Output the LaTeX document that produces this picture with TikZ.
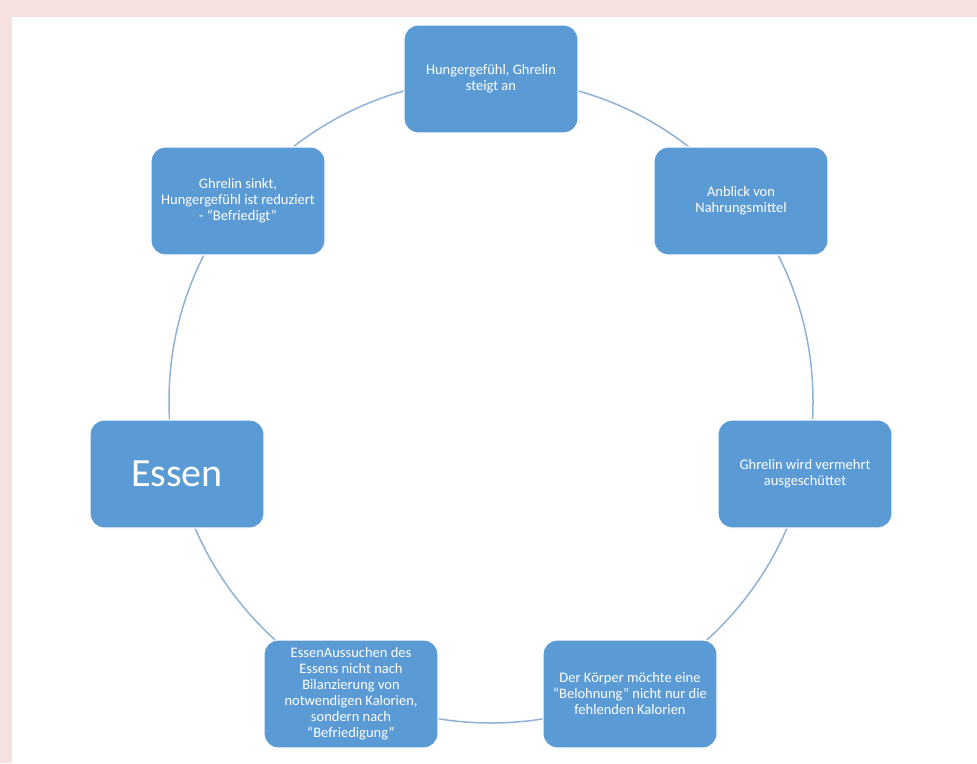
\documentclass[tikz,border=0pt]{standalone}
\usepackage{fontspec}
\setmainfont{Carlito}
\definecolor{bgpink}{RGB}{247,224,224}
\definecolor{boxblue}{RGB}{91,155,213}
\definecolor{ringblue}{RGB}{145,178,215}
\tikzset{
  cyclebox/.style={draw=white, line width=1.2pt, fill=boxblue, rounded corners=14pt,
    minimum width=174pt, minimum height=108pt, text=white, align=center,
    font=\fontsize{14.5}{16}\selectfont, inner sep=3pt},
  ring/.style={draw=ringblue, line width=1.5pt}
}
\begin{document}
\begin{tikzpicture}[x=1pt,y=-1pt]
\fill[bgpink] (0,0) rectangle (977,763);
\fill[white] (12,17) rectangle (977,763);
\useasboundingbox (0,0) rectangle (977,763);
\coordinate (c) at (491,401);
\draw[ring] (c) circle (322pt);
\node[cyclebox] (n1) at (491,79) {Hungergefühl, Ghrelin\\steigt an};
\node[cyclebox] (n2) at (741,201) {Anblick von\\Nahrungsmittel};
\node[cyclebox] (n3) at (805,474) {Ghrelin wird vermehrt\\ausgeschüttet};
\node[cyclebox] (n4) at (630,694) {Der Körper möchte eine\\“Belohnung” nicht nur die\\fehlenden Kalorien};
\node[cyclebox] (n5) at (351,694) {EssenAussuchen des\\Essens nicht nach\\Bilanzierung von\\notwendigen Kalorien,\\sondern nach\\“Befriedigung”};
\node[cyclebox, font=\fontsize{40}{44}\selectfont] (n6) at (177,474) {Essen};
\node[cyclebox] (n7) at (238,201) {Ghrelin sinkt,\\Hungergefühl ist reduziert\\- “Befriedigt”};
\end{tikzpicture}
\end{document}
